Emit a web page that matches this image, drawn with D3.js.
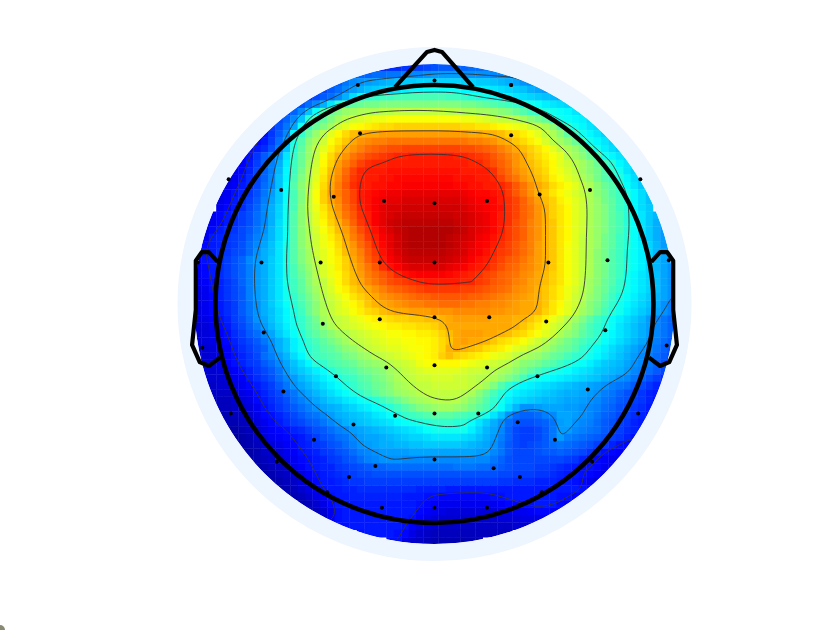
<!DOCTYPE html>
<html>

<head>
    <meta charset="utf-8">
    <style>
        body {
            margin: 0;
            background: white;
        }

        svg {
            display: block;
        }
    </style>
</head>

<body>
    <svg width="840" height="630"></svg>
</body>

<script src="https://d3js.org/d3.v7.min.js"></script>

<script>
    // jet stops, values are 0-100
    const jetStops = [0, 12.5, 39.5, 62.5, 87.5, 100];
    const jetColors = ["#000080", "#0000ff", "#00ffff", "#ffff00", "#ff0000", "#800000"];
    const contourLevels = [14, 28, 42, 56, 70, 84];

    // first column of each row below, rows run from the top of the disc
    const rowStart = [26, 22, 20, 18, 16, 14, 13, 12, 10, 9, 8, 8, 7, 6, 6, 5, 5, 4, 4, 4, 3, 2, 2, 2, 2,
        1, 1, 1, 1, 1, 1, 1, 1, 1, 1, 1, 1, 1, 1, 1, 1, 1,
        2, 2, 2, 2, 3, 4, 4, 5, 5, 6, 7, 8, 9, 10, 11, 12, 13, 15, 16, 18, 20, 23, 27];

    const gridRows = [
        [16,17,17,18,18,19,20,21,22,22,23,23,24,24,25],
        [22,23,23,24,24,25,25,26,27,27,28,29,29,29,29,28,28,28,28,27,27,27,27],
        [22,25,27,28,29,30,31,32,33,34,34,35,35,35,35,35,35,35,35,34,34,33,32,31,30,28,27],
        [20,22,24,27,29,31,33,34,35,36,37,38,39,39,40,40,40,40,40,39,39,38,38,37,36,35,34,33,31,30,29],
        [18,20,22,24,27,31,36,40,43,44,45,45,46,46,46,46,46,46,46,45,45,44,43,42,41,40,39,38,37,36,35,34,33,32,31],
        [19,21,24,27,31,37,43,46,48,49,50,50,51,51,51,51,51,51,51,51,51,51,51,50,50,49,48,47,46,45,44,42,41,40,38,37,36,35,33],
        [20,23,27,33,40,46,49,51,53,54,55,55,55,56,56,57,57,57,57,57,57,57,56,56,55,55,54,54,53,52,51,49,47,45,44,42,41,40,39,37,36],
        [20,23,27,33,43,46,48,51,54,56,58,59,60,61,61,62,62,62,62,62,62,62,62,62,62,61,61,60,59,58,57,57,56,54,52,50,48,43,41,40,39,38,36],
        [15,18,21,25,30,41,45,49,51,54,58,60,62,63,64,65,66,66,67,67,67,67,67,67,67,67,67,66,66,65,65,64,63,62,61,60,58,57,55,52,48,44,41,39,37,36,35],
        [12,14,18,22,27,39,44,49,53,56,60,63,66,69,70,71,71,72,72,72,72,72,72,72,72,72,72,72,72,71,71,70,70,69,67,66,64,62,60,57,55,52,48,45,41,39,37,35,34],
        [11,13,15,19,24,30,42,47,52,55,58,62,65,68,71,73,74,75,75,76,76,76,76,76,76,76,76,76,76,76,75,75,74,73,71,70,68,66,64,62,59,56,54,52,49,46,41,39,37,35,33],
        [13,15,17,21,26,33,43,48,53,57,60,64,67,71,73,75,77,78,79,80,80,81,81,81,81,81,81,81,81,80,80,79,78,77,75,73,71,69,67,65,63,60,57,55,53,50,46,41,38,36,34],
        [12,14,18,22,25,29,37,44,49,53,57,62,66,70,73,76,78,80,81,82,83,84,84,85,85,85,85,85,85,84,84,83,82,81,79,77,75,73,71,68,66,64,62,60,56,54,52,49,46,41,39,37,35],
        [11,12,15,19,23,26,31,38,45,49,54,58,63,67,72,75,78,81,83,84,84,85,85,85,85,85,85,85,85,85,85,85,84,84,82,80,78,76,73,71,69,67,65,63,60,58,56,54,52,49,46,43,39,37,35],
        [11,13,16,20,23,26,32,39,45,50,55,59,64,69,73,77,81,84,85,85,85,86,86,86,86,86,86,86,86,86,86,85,85,85,85,83,79,77,74,72,70,68,66,63,61,59,57,54,52,50,47,44,41,37,35],
        [10,11,14,17,20,23,27,33,39,46,51,55,60,65,70,74,78,82,84,85,85,86,86,87,87,87,87,87,87,87,87,86,86,86,85,85,84,81,78,76,73,71,69,67,64,62,60,58,55,53,50,47,45,42,39,36,34],
        [10,12,15,17,20,24,27,33,40,47,52,56,61,66,71,75,79,83,85,85,86,86,87,87,88,88,88,88,88,88,88,87,87,86,86,85,85,84,82,79,76,73,71,69,66,64,62,60,57,55,52,49,47,44,40,37,34],
        [10,11,14,16,18,21,25,29,34,40,46,51,57,62,67,72,75,78,81,85,86,87,88,89,89,90,90,90,90,90,90,90,90,89,88,87,87,86,85,82,79,76,73,70,68,65,63,61,59,57,55,52,50,47,45,42,39,36,33],
        [10,12,15,17,19,22,26,30,34,40,46,51,57,62,67,71,74,78,81,85,86,88,89,90,90,91,91,91,91,91,91,91,91,90,89,88,88,87,85,83,81,78,75,72,69,67,64,62,60,58,55,53,50,48,45,43,39,36,33],
        [11,13,15,17,20,23,27,31,35,41,46,52,57,61,65,69,73,77,80,84,86,88,90,91,91,92,92,92,92,92,92,92,92,91,90,89,88,87,86,83,81,78,76,73,70,67,65,63,60,58,55,53,51,48,45,43,39,36,34],
        [11,13,15,17,19,21,24,27,31,35,41,47,52,56,60,64,68,72,76,79,83,85,88,90,91,92,93,93,93,93,93,93,93,92,92,91,90,89,87,85,83,81,78,76,73,70,67,65,63,60,58,55,53,51,48,46,43,40,37,34,32],
        [9,11,13,15,17,19,21,24,27,31,36,41,47,52,56,60,63,67,70,74,78,82,85,88,90,92,93,94,94,94,94,94,94,94,93,92,91,90,89,87,85,83,80,78,75,73,70,68,65,63,60,58,55,53,51,48,46,43,40,37,34,31,29],
        [10,13,15,17,18,20,22,25,28,32,36,41,47,52,55,59,62,65,69,72,76,80,83,86,89,91,93,94,95,95,95,95,95,95,94,93,91,90,89,87,85,82,80,78,75,73,70,68,65,63,60,58,55,53,51,48,46,43,40,37,34,31,29],
        [11,15,16,18,19,20,23,26,29,32,36,41,47,52,55,58,61,64,67,71,75,78,82,85,88,90,92,94,95,95,95,95,95,94,93,92,91,89,88,86,84,82,80,78,75,73,70,68,65,63,60,57,55,53,50,48,45,43,40,37,34,31,29],
        [13,15,16,18,19,21,24,27,30,33,37,42,47,52,55,58,61,63,66,70,73,77,80,84,87,90,92,94,95,95,95,95,95,94,93,91,90,88,87,85,83,81,79,77,75,72,70,68,65,62,60,57,55,53,50,48,45,43,40,38,35,32,29],
        [11,14,15,17,18,20,21,24,28,31,33,37,42,47,51,54,58,60,62,65,69,72,75,79,82,86,89,91,93,94,94,94,94,94,93,92,91,89,88,86,84,82,81,79,77,75,72,70,68,65,62,60,57,55,52,50,47,45,42,40,38,35,32,30,28],
        [12,14,15,17,19,21,23,27,29,31,34,37,42,47,51,54,57,60,62,64,67,71,74,78,81,85,88,90,92,93,93,93,93,93,92,91,90,88,86,85,83,81,79,78,76,74,72,70,68,65,62,60,57,55,52,50,47,45,42,40,38,35,32,30,28],
        [11,13,15,17,19,21,23,26,29,31,34,37,42,46,50,53,56,59,61,64,67,70,73,76,79,83,86,88,90,91,91,91,91,91,90,89,88,86,85,84,82,80,78,77,75,74,72,70,68,65,62,60,57,55,52,50,47,45,42,40,38,35,32,30,28],
        [11,13,15,17,19,21,23,26,29,31,34,37,42,46,49,52,56,59,61,63,66,69,72,75,77,79,81,84,86,87,88,88,88,88,87,86,85,84,83,81,80,78,77,76,74,73,71,69,67,65,62,60,57,55,52,50,47,45,41,39,37,35,33,30,28],
        [10,12,14,16,18,20,23,26,29,31,34,37,42,45,48,52,55,57,60,63,66,69,71,74,76,78,80,81,82,83,84,85,85,85,85,85,84,84,82,81,79,78,77,75,74,72,71,69,67,65,62,60,57,54,52,49,47,44,41,39,37,35,33,30,28],
        [9,11,14,16,18,20,22,26,29,31,34,37,41,45,48,51,54,57,59,62,64,67,69,71,73,75,77,78,79,80,81,82,82,82,82,82,81,81,80,79,78,77,76,74,73,72,70,68,66,64,61,59,56,54,51,49,46,44,41,39,37,35,33,30,28],
        [9,11,13,16,18,20,22,26,29,31,34,37,41,44,47,50,53,56,58,60,62,65,67,69,71,73,74,75,76,77,78,78,79,79,79,79,79,78,78,77,76,75,74,73,72,71,70,68,66,64,61,58,56,53,51,48,45,42,40,38,36,34,32,30,28],
        [9,11,13,15,17,19,22,25,28,31,34,37,40,43,46,49,52,55,57,59,61,63,65,68,70,71,72,73,74,75,75,76,76,77,77,77,76,76,75,75,74,74,73,72,71,71,70,68,65,63,60,58,55,52,50,47,44,41,39,37,35,33,31,28,26],
        [9,11,13,15,17,19,22,25,28,31,33,36,39,42,45,49,52,55,57,59,60,62,64,66,67,69,70,71,71,72,72,72,73,73,73,74,74,74,74,74,73,73,72,72,71,71,70,67,65,62,60,57,54,52,49,46,43,41,38,36,34,32,30,28,26],
        [9,10,12,14,16,19,21,24,28,30,33,36,39,41,44,47,50,54,56,57,58,60,61,63,64,65,66,67,67,68,68,69,69,70,71,72,72,72,72,72,71,71,71,70,70,68,66,64,61,59,56,54,51,48,45,43,40,38,36,34,32,29,27,25,23],
        [8,9,11,13,15,18,20,23,26,29,32,35,38,41,44,47,49,52,55,57,58,59,60,61,62,63,64,64,65,65,66,66,67,69,71,71,71,71,71,71,71,71,71,70,68,66,64,61,59,57,55,52,49,46,44,42,40,37,35,33,31,29,27,25,23],
        [8,9,10,12,14,17,19,22,24,27,30,34,37,40,43,46,48,50,52,54,55,57,58,59,60,61,62,62,63,63,64,64,65,67,69,71,72,72,72,71,71,70,69,67,66,64,62,60,58,55,53,51,48,46,44,41,39,37,35,33,31,29,27,25,23],
        [8,9,10,12,13,16,18,20,22,25,28,31,34,38,41,44,46,48,50,52,54,56,57,58,59,60,61,61,62,62,63,63,64,66,68,71,72,71,71,70,68,66,65,64,62,60,58,56,54,52,50,48,46,44,43,40,38,36,34,32,30,28,26,24,22],
        [8,8,9,11,12,15,17,19,21,23,27,31,34,38,41,43,45,47,48,50,52,53,55,57,58,59,60,60,61,62,62,63,64,66,70,71,70,69,68,66,65,64,62,60,59,57,56,54,52,50,49,47,44,42,40,38,36,34,32,30,28,27,25,23,21],
        [8,8,9,10,12,14,16,18,20,24,26,29,32,36,39,43,45,46,47,48,50,51,53,54,56,57,58,59,60,61,62,63,64,67,69,67,66,65,64,63,61,60,59,57,55,54,53,51,49,48,46,44,43,41,39,37,35,33,31,29,27,26,24,22,20],
        [8,8,9,10,12,14,16,18,19,22,24,27,30,33,36,39,43,44,46,47,48,49,51,52,53,54,56,57,58,59,61,62,63,63,63,63,62,61,60,59,58,57,56,54,52,51,50,48,47,45,43,41,40,38,36,34,33,32,30,28,27,25,23,21,19],
        [8,8,8,9,10,12,14,16,18,20,22,25,29,32,34,36,38,40,43,45,46,47,49,50,51,52,54,55,57,58,59,60,60,60,60,60,59,58,58,57,56,55,54,52,50,48,46,44,42,41,40,38,37,36,34,33,32,31,29,27,26,24,22,20,18],
        [8,8,8,9,11,12,15,17,19,21,24,27,29,32,34,36,38,40,42,44,45,47,48,50,51,53,55,56,57,58,58,59,59,59,58,58,57,56,56,55,53,51,49,46,42,41,40,39,38,37,36,35,34,33,31,30,28,27,25,23,21,19,17],
        [7,7,8,8,10,11,13,15,17,19,22,25,28,30,32,34,36,38,40,42,44,46,47,49,50,52,54,55,56,57,57,58,58,58,58,58,57,56,54,51,47,44,41,39,38,37,36,35,34,33,32,31,30,29,28,26,25,24,22,20,18,16,15],
        [7,7,7,7,9,10,11,14,16,18,20,23,25,28,30,32,34,36,38,40,42,44,46,48,50,51,53,54,55,56,57,57,57,57,57,56,55,52,49,46,43,40,38,37,36,35,34,33,32,31,31,30,29,28,26,25,23,21,20,18,16,15,14],
        [6,6,6,6,8,9,10,13,15,17,19,21,24,26,28,30,32,34,35,37,38,40,41,43,45,47,49,51,53,54,55,56,56,56,56,54,52,50,47,44,41,38,36,35,34,33,32,32,31,30,30,29,28,27,25,24,22,21,19,18,16,14,13],
        [5,6,6,7,8,9,11,14,16,18,20,22,24,26,28,30,31,32,34,35,37,38,40,41,43,45,47,49,51,52,53,54,54,53,52,50,48,46,43,40,36,32,28,28,29,30,30,30,29,29,28,27,26,24,23,21,20,18,17,15,14],
        [5,5,6,7,8,10,13,14,16,18,20,22,24,25,27,29,31,32,33,34,35,37,38,40,42,44,45,46,47,48,48,48,47,46,45,43,41,37,33,28,24,23,23,24,26,27,30,30,29,28,27,25,23,22,20,19,17,16,14],
        [5,5,5,6,7,9,11,13,15,17,19,20,22,23,25,27,29,31,32,33,34,35,36,37,39,40,41,42,43,44,44,44,43,43,40,37,34,31,28,24,22,21,21,22,23,25,29,30,28,27,26,24,22,21,19,18,16,15,14],
        [4,4,5,6,8,10,12,13,14,16,17,19,21,22,24,26,27,29,30,31,32,33,34,35,36,37,38,40,41,41,41,41,41,38,35,32,30,27,23,20,19,19,20,22,25,29,29,27,26,25,24,22,21,19,17,16,15],
        [3,3,4,5,7,9,11,12,13,14,15,17,19,21,22,24,25,27,29,30,30,31,32,33,34,35,35,36,37,37,37,37,36,35,33,31,29,26,23,20,19,19,20,22,25,29,26,25,24,23,22,21,19,18,16,14,13],
        [3,4,5,6,8,9,10,12,13,15,16,18,19,21,22,24,26,28,29,30,31,31,32,32,33,33,34,34,34,34,34,33,32,31,30,28,25,22,20,19,20,21,22,24,25,24,23,22,21,19,18,16,14,13,12],
        [4,4,5,7,8,9,11,12,14,15,16,18,19,21,22,24,26,27,28,29,29,29,29,30,30,30,30,30,30,30,30,30,29,29,27,25,22,20,20,20,21,22,22,23,22,21,20,18,16,14,13,12,11],
        [4,5,6,7,8,10,11,13,14,15,16,18,19,21,22,24,26,27,28,28,28,27,27,27,27,27,27,27,27,27,27,27,27,25,23,21,20,20,20,20,20,20,20,19,18,16,14,13,12,11,10],
        [4,5,6,7,8,10,12,14,15,16,16,18,19,20,21,22,23,23,24,24,24,24,24,24,24,24,24,25,25,25,24,24,23,22,21,20,20,20,19,19,18,17,16,15,14,14,13,11,10],
        [4,5,6,7,8,10,12,14,15,16,17,18,19,20,20,21,21,21,21,21,21,21,21,21,21,21,21,21,21,21,21,21,20,20,19,19,19,18,18,17,16,15,15,14,13,12,10],
        [4,5,6,7,9,11,13,15,15,16,17,18,18,19,19,19,19,19,19,19,19,19,19,19,19,19,19,19,19,19,19,18,18,17,17,17,16,16,16,15,15,14,13,11,9],
        [4,5,6,8,10,12,14,15,15,16,16,17,17,17,17,17,17,17,17,16,16,16,16,15,15,15,15,15,15,15,15,15,15,15,15,15,15,15,15,15,15,14,12],
        [4,5,6,8,10,12,14,15,15,16,16,16,16,16,16,16,15,15,15,14,14,13,13,13,13,13,13,13,14,14,15,15,15,15,15,15,15,14,14,12,10],
        [5,6,8,10,13,15,15,15,15,15,15,15,15,15,15,15,14,13,12,11,11,11,11,11,11,11,11,12,13,13,14,14,15,15,15,13,11],
        [5,6,8,11,14,15,15,15,15,15,15,15,15,15,15,13,12,11,10,9,9,9,9,9,9,9,10,10,11,11,12,13,13,12,11],
        [7,11,14,15,15,15,15,15,15,15,15,15,14,12,10,9,8,8,8,8,8,8,8,8,9,9,9,10,10,10,10],
        [14,14,15,15,15,15,15,15,15,14,12,10,9,8,7,7,7,7,7,7,7,7,7,7,8,8,8],
        [14,15,15,15,15,14,13,10,8,7,6,6,6,6,6,6,6,6,6,6,6],
        [14,14,10,8,7,6,5,5,5,5,5,5,5]
    ];

    // electrode and outline positions, in head radii from the centre of the head
    const chanX = [-0.35, 0, 0.35, -0.94, -0.70, -0.34, -0.46, -0.23, 0, -0.79, -0.52, -0.25, 0, -1.08,
        0.35, 0.94, 0.71, 0.48, 0.24, 0.35, 0.52, 0.79, 1.07,
        0, -0.25, -0.51, -0.78, -1.06, 0, -0.22, -0.45, -0.69, -0.93, 0, -0.18, -0.37, -0.55, -0.72,
        0, -0.27, -0.39, -0.49, -0.24, 0,
        0.25, 0.51, 0.78, 1.06, 0.24, 0.47, 0.70, 0.20, 0.38, 0.55, 0.93, 0.27, 0.39, 0.72, 0.49, 0.24];
    const chanY = [1.00, 1.02, 1.00, 0.57, 0.52, 0.78, 0.49, 0.47, 0.46, 0.19, 0.19, 0.19, 0.19, 0.19,
        1.00, 0.57, 0.52, 0.50, 0.47, 0.77, 0.19, 0.20, 0.20,
        -0.06, -0.07, -0.09, -0.13, -0.20, -0.28, -0.29, -0.33, -0.40, -0.50, -0.50, -0.51, -0.55, -0.62, -0.72,
        -0.71, -0.74, -0.79, -0.86, -0.93, -0.93,
        -0.06, -0.08, -0.12, -0.19, -0.29, -0.33, -0.39, -0.50, -0.54, -0.62, -0.50, -0.75, -0.79, -0.72, -0.86, -0.93];

    const noseX = [-0.18, -0.034, 0, 0.034, 0.176];
    const noseY = [0.99, 1.151, 1.16, 1.151, 0.99];
    const earX = [0.99, 1.03, 1.062, 1.09, 1.09, 1.107, 1.072, 1.03, 0.98];
    const earY = [0.192, 0.237, 0.237, 0.198, -0.027, -0.187, -0.265, -0.283, -0.245];

    let centerX = 434.5;
    let centerY = 304;
    let headR = 219;
    let discR = 240;
    let ringR = 257;
    let cell = 7.4;

    let svg = d3.select("svg")

    let jet = d3.scaleLinear().domain(jetStops).range(jetColors)
    let colX = d3.scaleLinear().domain([0, 66]).range([centerX - 33 * cell, centerX + 33 * cell])
    let rowY = d3.scaleLinear().domain([1, 65]).range([centerY - 32 * cell, centerY + 32 * cell])
    let headX = d3.scaleLinear().domain([-1, 1]).range([centerX - headR, centerX + headR])
    let headY = d3.scaleLinear().domain([-1, 1]).range([centerY + headR, centerY - headR])

    svg.append("clipPath")
        .attr("id", "disc")
        .append("circle")
        .attr("cx", centerX)
        .attr("cy", centerY)
        .attr("r", discR)

    let cells = []
    gridRows.forEach((row, r) => {
        row.forEach((v, c) => cells.push({ row: r + 1, col: c + rowStart[r], v: v }))
    })

    let plot = svg.append("g").attr("clip-path", "url(#disc)")

    plot.append("g")
        .selectAll("rect")
        .data(cells)
        .join("rect")
        .attr("x", d => colX(d.col) - cell / 2)
        .attr("y", d => rowY(d.row) - cell / 2)
        .attr("width", cell + 0.4)
        .attr("height", cell + 0.4)
        .attr("fill", d => jet(d.v))

    // full rectangle for d3.contours, each row repeats its end values outwards
    let nCols = 67
    let nRows = 65
    let flat = []
    gridRows.forEach((row, r) => {
        for (let c = 0; c < nCols; c++) {
            let k = Math.max(0, Math.min(row.length - 1, c - rowStart[r]))
            flat.push(row[k])
        }
    })

    let rings = d3.contours().size([nCols, nRows]).thresholds(contourLevels)(flat)
    let ringLine = d3.line()
        .x(p => colX(p[0] - 0.5))
        .y(p => rowY(p[1] + 0.5))
        .curve(d3.curveBasisClosed)

    // contours come back with a point per cell edge, thin them so the curve runs smooth
    function ringPath(ring) {
        let pts = ring.slice(0, -1)
        if (pts.length < 12) return ""
        return ringLine(pts.filter((p, i) => i % 3 == 0))
    }

    plot.append("g")
        .selectAll("path")
        .data(rings)
        .join("path")
        .attr("fill", "none")
        .attr("stroke", "#333333")
        .attr("stroke-width", 0.9)
        .attr("d", d => d.coordinates.map(poly => poly.map(ringPath).join("")).join(""))

    svg.append("circle")
        .attr("cx", centerX)
        .attr("cy", centerY)
        .attr("r", (discR + ringR) / 2)
        .attr("fill", "none")
        .attr("stroke", "#edf5fe")
        .attr("stroke-width", ringR - discR)

    svg.append("g")
        .selectAll("circle")
        .data(chanX.map((x, i) => [x, chanY[i]]))
        .join("circle")
        .attr("cx", d => headX(d[0]))
        .attr("cy", d => headY(d[1]))
        .attr("r", 2)
        .attr("fill", "black")

    svg.append("circle")
        .attr("cx", centerX)
        .attr("cy", centerY)
        .attr("r", headR)
        .attr("fill", "none")
        .attr("stroke", "black")
        .attr("stroke-width", 4.6)

    let outline = d3.line().x(d => headX(d[0])).y(d => headY(d[1]))

    let shapes = [
        noseX.map((x, i) => [x, noseY[i]]),
        earX.map((x, i) => [x, earY[i]]),
        earX.map((x, i) => [-x, earY[i]])
    ]

    svg.append("g")
        .selectAll("path")
        .data(shapes)
        .join("path")
        .attr("d", outline)
        .attr("fill", "none")
        .attr("stroke", "black")
        .attr("stroke-width", 4.2)
        .attr("stroke-linejoin", "round")

    // bit of something cut off in the lower left corner
    svg.append("circle")
        .attr("cx", 0)
        .attr("cy", 630)
        .attr("r", 5)
        .attr("fill", "#8a8a74")
</script>

</html>
